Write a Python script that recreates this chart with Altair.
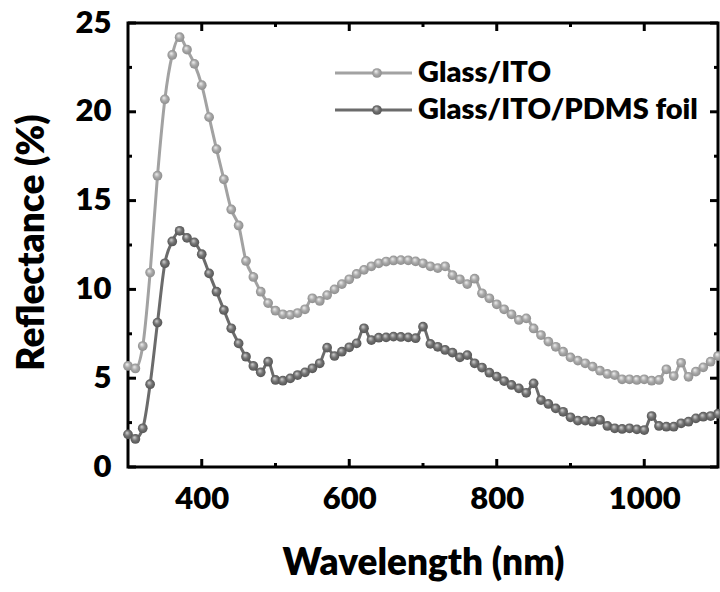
import altair as alt
import pandas as pd

# Reflectance spectra, sampled every 10 nm
wavelength = [
    300, 310, 320, 330, 340, 350, 360, 370, 380, 390,
    400, 410, 420, 430, 440, 450, 460, 470, 480, 490,
    500, 510, 520, 530, 540, 550, 560, 570, 580, 590,
    600, 610, 620, 630, 640, 650, 660, 670, 680, 690,
    700, 710, 720, 730, 740, 750, 760, 770, 780, 790,
    800, 810, 820, 830, 840, 850, 860, 870, 880, 890,
    900, 910, 920, 930, 940, 950, 960, 970, 980, 990,
    1000, 1010, 1020, 1030, 1040, 1050, 1060, 1070, 1080, 1090,
    1100,
]
glass_ito = [
    5.69, 5.55, 6.81, 10.95, 16.4, 20.7, 23.2, 24.2, 23.5, 22.7,
    21.5, 19.7, 17.9, 16.2, 14.5, 13.6, 11.6, 10.7, 9.87, 9.23,
    8.8, 8.6, 8.57, 8.67, 8.88, 9.5, 9.35, 9.68, 10.0, 10.3,
    10.57, 10.87, 11.1, 11.3, 11.47, 11.57, 11.63, 11.65, 11.64, 11.58,
    11.47, 11.3, 11.2, 11.3, 10.8, 10.57, 10.3, 10.6, 9.78, 9.5,
    9.16, 8.88, 8.6, 8.28, 8.37, 7.8, 7.43, 7.06, 6.77, 6.49,
    6.17, 5.99, 5.84, 5.65, 5.42, 5.24, 5.18, 4.94, 4.94, 4.9,
    4.94, 4.86, 4.9, 5.5, 5.12, 5.87, 5.08, 5.37, 5.61, 5.93,
    6.25,
]
glass_ito_pdms = [
    1.84, 1.58, 2.18, 4.66, 8.13, 11.47, 12.7, 13.3, 12.9, 12.65,
    11.98, 10.9, 9.87, 8.84, 7.81, 6.96, 6.21, 5.69, 5.33, 5.93,
    4.9, 4.86, 4.99, 5.18, 5.33, 5.56, 5.84, 6.72, 6.25, 6.49,
    6.74, 6.96, 7.81, 7.15, 7.28, 7.3, 7.34, 7.32, 7.3, 7.25,
    7.9, 6.93, 6.77, 6.59, 6.44, 6.17, 6.3, 5.84, 5.6, 5.31,
    5.09, 4.84, 4.62, 4.43, 4.18, 4.71, 3.77, 3.55, 3.3, 3.11,
    2.8, 2.61, 2.61, 2.55, 2.65, 2.31, 2.18, 2.14, 2.18, 2.12,
    2.08, 2.87, 2.31, 2.27, 2.27, 2.46, 2.55, 2.74, 2.83, 2.87,
    3.0,
]
series_names = ["Glass/ITO", "Glass/ITO/PDMS foil"]

x_major = [400, 600, 800, 1000]
x_minor = [500, 700, 900]
y_major = [0, 5, 10, 15, 20, 25]
y_minor = [2.5, 7.5, 12.5, 17.5, 22.5]

W, H = 590, 444
FONT = "Lato"
WEIGHT = 800
LINE_COLORS = ["#a2a2a2", "#6b6b6b"]
SPHERE = [("#f4f4f4", "#a8a8a8", "#8a8a8a"), ("#d8d8d8", "#727272", "#505050")]
MARKER_SIZE = 95

x_scale = alt.Scale(domain=[300, 1100], nice=False, zero=False)
y_scale = alt.Scale(domain=[0, 25], nice=False, zero=False)

x_axis = alt.Axis(
    values=x_major, format="d", ticks=False, tickSize=0, domain=False, grid=False,
    labelFont=FONT, labelFontSize=31, labelFontWeight=WEIGHT, labelColor="black",
    labelPadding=17, labelBaseline="top",
    title="Wavelength (nm)", titleFont=FONT, titleFontSize=37, titleFontWeight=WEIGHT,
    titleColor="black", titleX=W / 2, titleY=96, titleBaseline="middle",
    titleAlign="center",
)
y_axis = alt.Axis(
    values=y_major, format="d", ticks=False, tickSize=0, domain=False, grid=False,
    labelFont=FONT, labelFontSize=31, labelFontWeight=WEIGHT, labelColor="black",
    labelPadding=17, labelBaseline="middle",
    title="Reflectance (%)", titleFont=FONT, titleFontSize=37, titleFontWeight=WEIGHT,
    titleColor="black", titleAngle=-90, titleX=-96, titleY=H / 2 - 3,
    titleBaseline="middle", titleAlign="center",
)


def sphere_fill(light, base, dark):
    return alt.Gradient(
        gradient="radial",
        stops=[
            alt.GradientStop(offset=0.0, color=light),
            alt.GradientStop(offset=0.5, color=base),
            alt.GradientStop(offset=1.0, color=dark),
        ],
        x1=0.38, y1=0.32, r1=0.0,
        x2=0.5, y2=0.5, r2=0.55,
    )


layers = []

for i, values in enumerate([glass_ito, glass_ito_pdms]):
    base = alt.Chart(pd.DataFrame({"wl": wavelength, "R": values}))
    x_enc = alt.X("wl:Q", scale=x_scale, axis=x_axis)
    y_enc = alt.Y("R:Q", scale=y_scale, axis=y_axis)
    layers.append(
        base.mark_line(interpolate="monotone", strokeWidth=3, color=LINE_COLORS[i])
        .encode(x=x_enc, y=y_enc)
    )
    layers.append(
        base.mark_point(filled=True, size=MARKER_SIZE, opacity=1, strokeWidth=0,
                        fill=sphere_fill(*SPHERE[i]))
        .encode(x=x_enc, y=y_enc)
    )


# inward tick marks on all four sides
def x_ticks(vals, length):
    src = alt.Chart(pd.DataFrame({"wl": vals}))
    enc = alt.X("wl:Q", scale=x_scale, axis=x_axis)
    bottom = src.mark_rule(color="black", strokeWidth=3).encode(
        x=enc, y=alt.value(H), y2=alt.value(H - length))
    top = src.mark_rule(color="black", strokeWidth=3).encode(
        x=enc, y=alt.value(0), y2=alt.value(length))
    return [bottom, top]


def y_ticks(vals, length):
    src = alt.Chart(pd.DataFrame({"R": vals}))
    enc = alt.Y("R:Q", scale=y_scale, axis=y_axis)
    left = src.mark_rule(color="black", strokeWidth=3).encode(
        y=enc, x=alt.value(0), x2=alt.value(length))
    right = src.mark_rule(color="black", strokeWidth=3).encode(
        y=enc, x=alt.value(W), x2=alt.value(W - length))
    return [left, right]


layers += x_ticks(x_major, 8) + x_ticks(x_minor, 4)
layers += y_ticks(y_major, 8) + y_ticks(y_minor, 4)

# legend drawn inside the plot area
legend_rows = [50, 87]
for i, name in enumerate(series_names):
    src = alt.Chart(pd.DataFrame({"name": [name]}))
    ly = legend_rows[i]
    layers.append(src.mark_rule(color=LINE_COLORS[i], strokeWidth=3).encode(
        x=alt.value(207), x2=alt.value(284), y=alt.value(ly)))
    layers.append(src.mark_point(filled=True, size=MARKER_SIZE, opacity=1, strokeWidth=0,
                                 fill=sphere_fill(*SPHERE[i])).encode(
        x=alt.value(249), y=alt.value(ly)))
    layers.append(src.mark_text(align="left", baseline="middle", font=FONT,
                                fontSize=29, fontWeight=WEIGHT, color="black").encode(
        x=alt.value(290), y=alt.value(ly), text="name:N"))

chart = (
    alt.layer(*layers)
    .properties(
        width=W, height=H,
        autosize=alt.AutoSizeParams(type="none"),
        padding={"left": 128, "top": 23, "right": 2, "bottom": 125},
        background="white",
    )
    .configure_view(stroke="black", strokeWidth=3)
)

chart.save("out.html", embed_options={"renderer": "svg", "actions": False})
